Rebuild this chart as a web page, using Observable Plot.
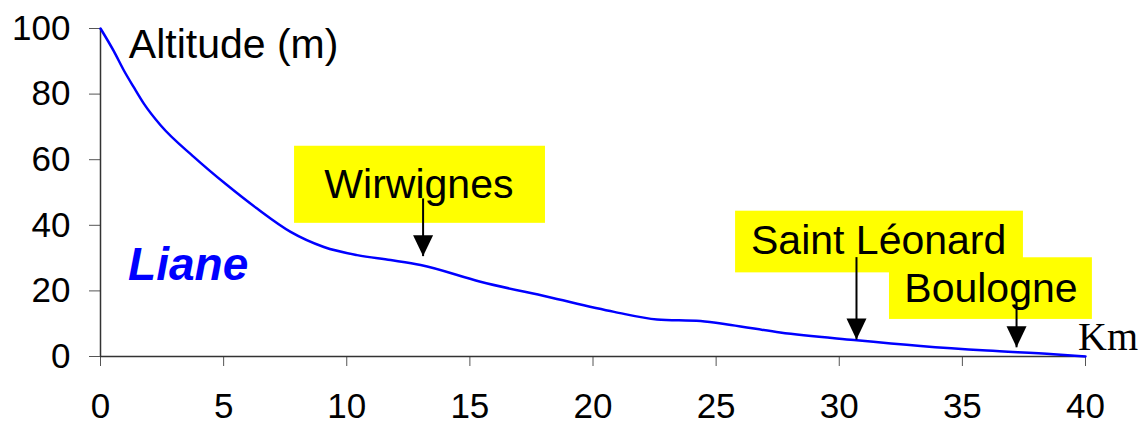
<!DOCTYPE html>
<html><head><meta charset="utf-8">
<script src="https://cdn.jsdelivr.net/npm/d3@7"></script>
<script src="https://cdn.jsdelivr.net/npm/@observablehq/plot@0.6"></script>
<style>body{margin:0;background:#fff} svg{display:block}</style>
</head><body><div id="chart"></div>
<script>
// Longitudinal profile of the Liane river
const km       = [0, 0.54, 0.95, 1.35, 1.76, 2.44, 3.8, 5.1, 6.36, 7.72, 9.07, 10.42, 11.78, 13.0, 15.43, 18.15, 20.86, 22.6, 24.37, 25.6, 27.6, 30.6, 33.3, 36.0, 38.7, 40];
const altitude = [100, 93.1, 87.2, 82.1, 77.1, 70.5, 60.8, 52.5, 45.1, 38.0, 33.4, 30.9, 29.4, 27.9, 22.8, 18.2, 13.6, 11.3, 10.8, 9.6, 7.3, 5.0, 3.2, 1.8, 0.7, 0];

const xTicks = [0, 5, 10, 15, 20, 25, 30, 35, 40];
const yTicks = [0, 20, 40, 60, 80, 100];

// Towns along the river (arrows pointing at the profile)
const towns      = ["Wirwignes", "Saint Léonard", "Boulogne"];
const townKm     = [13.1, 30.7, 37.2];
const arrowFrom  = [48.2, 30.3, 17.2];
const arrowTo    = [30.6, 5.2, 2.8];
// label anchors (data units)
const labelKm    = [12.93, 31.6, 36.16];
const labelAlt   = [48.2, 31.1, 16.7];
const boxKm1     = [7.88, 25.79, 32.04];
const boxKm2     = [18.07, 37.48, 40.28];
const boxAlt1    = [40.6, 25.5, 11.3];
const boxAlt2    = [64.1, 44.3, 30.1];

const yTitle = ["Altitude (m)"];
const yTitlePos = {km: 1.15, alt: 91.1};
const riverName = ["Liane"];
const riverPos = {km: 1.12, alt: 23.3};
const xTitle = ["Km"];
const xTitlePos = {km: 39.7, alt: 2.0};

const profile = km.map((k, i) => ({km: k, alt: altitude[i]}));
const townRows = towns.map((t, i) => ({
  name: t, km: townKm[i], from: arrowFrom[i], to: arrowTo[i],
  lx: labelKm[i], ly: labelAlt[i],
  bx1: boxKm1[i], bx2: boxKm2[i], by1: boxAlt1[i], by2: boxAlt2[i]
}));

const downTriangle = {
  draw(ctx) { ctx.moveTo(0, 0); ctx.lineTo(-10, -21); ctx.lineTo(10, -21); ctx.closePath(); }
};

const chart = Plot.plot({
  width: 1141, height: 425,
  marginLeft: 100, marginRight: 56, marginTop: 28, marginBottom: 69,
  style: {fontFamily: "'Liberation Sans', Arial, sans-serif", background: "#fff", overflow: "visible"},
  x: {domain: [0, 40]},
  y: {domain: [0, 100]},
  marks: [
    Plot.axisY({ticks: yTicks, tickSize: 11, tickPadding: 19, fontSize: 35, stroke: "#555", fill: "#000", label: null}),
    Plot.axisX({ticks: xTicks, tickSize: 10, tickPadding: 27, fontSize: 35, stroke: "#555", fill: "#000", label: null}),
    Plot.ruleX([0], {stroke: "#333", strokeWidth: 1.5}),
    Plot.ruleY([0], {stroke: "#333", strokeWidth: 1.5}),
    Plot.rect(townRows, {x1: "bx1", x2: "bx2", y1: "by1", y2: "by2", fill: "#ffff00"}),
    Plot.text(townRows, {x: "lx", y: "ly", text: "name", fontSize: 41, lineAnchor: "bottom", fill: "#000"}),
    Plot.line(profile, {x: "km", y: "alt", stroke: "#0000ff", strokeWidth: 2.5, curve: "monotone-x"}),
    Plot.link(townRows, {x1: "km", x2: "km", y1: "from", y2: "to", stroke: "#000", strokeWidth: 2}),
    Plot.dot(townRows, {x: "km", y: "to", symbol: downTriangle, fill: "#000", stroke: null}),
    Plot.text(yTitle, {x: yTitlePos.km, y: yTitlePos.alt, text: d => d, fontSize: 41, textAnchor: "start", lineAnchor: "bottom", fill: "#000"}),
    Plot.text(riverName, {x: riverPos.km, y: riverPos.alt, text: d => d, fontSize: 46, fontWeight: "bold", fontStyle: "italic", textAnchor: "start", lineAnchor: "bottom", fill: "#0000ff"}),
    Plot.text(xTitle, {x: xTitlePos.km, y: xTitlePos.alt, text: d => d, fontSize: 40, fontFamily: "'Liberation Serif', 'Times New Roman', serif", textAnchor: "start", lineAnchor: "bottom", fill: "#000"})
  ]
});
document.getElementById("chart").appendChild(chart);
</script>
</body></html>
